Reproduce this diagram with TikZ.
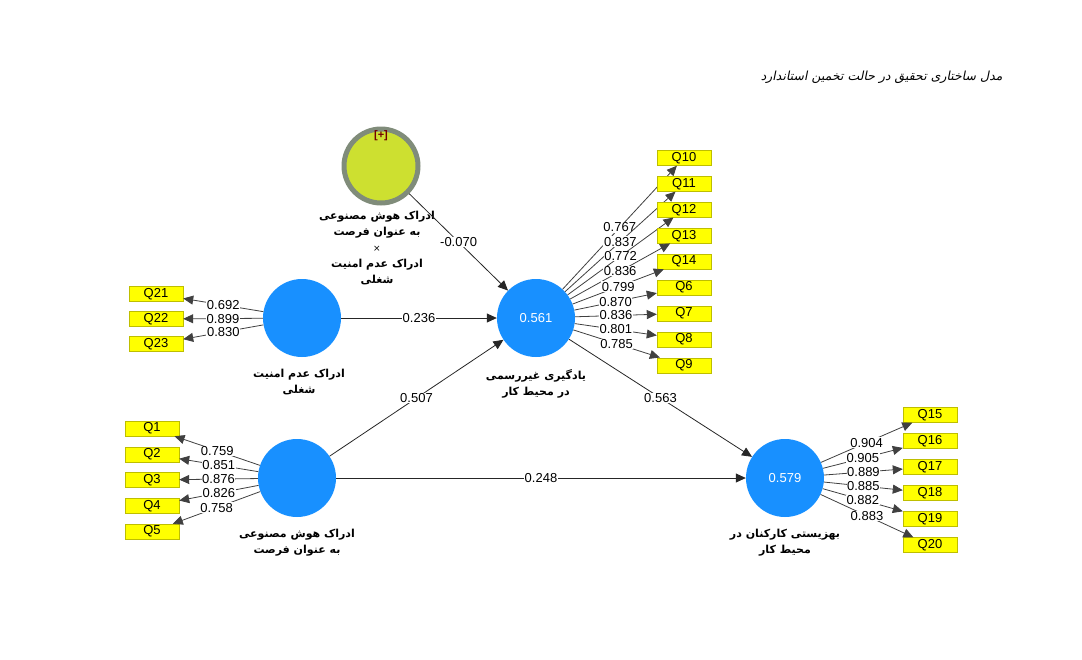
\documentclass[tikz,border=0pt]{standalone}
\usepackage{fontspec}
\setmainfont{Liberation Sans}
\newfontfamily\fa[Script=Arabic]{DejaVu Sans}
\newfontfamily\fatitle[Script=Arabic,FakeSlant=0.2]{DejaVu Sans}
\TeXXeTstate=1
\usetikzlibrary{arrows.meta,positioning}
\newcommand{\rtl}[1]{\beginR #1\endR}
\definecolor{lvblue}{RGB}{24,144,255}
\definecolor{modfill}{RGB}{205,224,48}
\definecolor{modring}{RGB}{128,140,122}
\definecolor{itemfill}{RGB}{255,255,0}
\definecolor{itemline}{RGB}{190,190,0}
\tikzset{
  lv/.style={circle, fill=lvblue, minimum size=78pt, inner sep=0pt, text=white,
    font=\fontsize{13}{15}\selectfont},
  modlv/.style={circle, fill=modfill, draw=modring, line width=5pt, minimum size=74pt, inner sep=0pt},
  item/.style={draw=itemline, fill=itemfill, minimum width=54pt, minimum height=15pt,
    inner sep=0pt, font=\fontsize{13}{14}\selectfont},
  lvname/.style={align=center, inner sep=0pt, font=\fa\bfseries\fontsize{11}{16}\selectfont},
  coef/.style={fill=white, inner sep=0.6pt, font=\fontsize{13}{13}\selectfont},
  struct/.style={draw=black!85, line width=0.8pt, -{Triangle[length=10pt,width=9pt]}},
  loadarrow/.style={draw=black!75, line width=0.8pt, -{Triangle[length=10pt,width=9pt]}}
}
\begin{document}
\begin{tikzpicture}[x=1pt, y=-1pt]
  \useasboundingbox (0,0) rectangle (1082,659);

  % title
  \node[anchor=east, font=\fatitle\fontsize{12.5}{15}\selectfont] (title) at (1006,77)
    {\rtl{مدل ساختاری تحقیق در حالت تخمین استاندارد}};

  % latent variables
  \node[modlv] (mod) at (381,166) {};
  \node[font=\bfseries\fontsize{11}{12}\selectfont, text=red!45!black] (modtag) at (381,136) {[+]};
  \node[lv] (ji) at (302,318) {};
  \node[lv] (ai) at (297,478) {};
  \node[lv] (inf) at (536,318) {0.561};
  \node[lv] (wb) at (785,478) {0.579};

  \node[lvname, below=5pt of mod, xshift=-4pt] (modname)
    {\rtl{ادراک هوش مصنوعی}\\\rtl{به عنوان فرصت}\\{\mdseries\fontsize{9}{16}\selectfont ×}\\\rtl{ادراک عدم امنیت}\\\rtl{شغلی}};
  \node[lvname, below=12pt of ji, xshift=-3pt] (jiname) {\rtl{ادراک عدم امنیت}\\\rtl{شغلی}};
  \node[lvname, below=12pt of ai] (ainame) {\rtl{ادراک هوش مصنوعی}\\\rtl{به عنوان فرصت}};
  \node[lvname, below=12pt of inf] (infname) {\rtl{یادگیری غیررسمی}\\\rtl{در محیط کار}};
  \node[lvname, below=12pt of wb] (wbname) {\rtl{بهزیستی کارکنان در}\\\rtl{محیط کار}};

  % indicators
  \foreach \q/\l [count=\i from 0] in {10/0.767, 11/0.837, 12/0.772, 13/0.836, 14/0.799,
      6/0.870, 7/0.836, 8/0.801, 9/0.785}
  { \node[item] (q\q) at (684,158+25.9*\i) {Q\q};
    \draw[loadarrow] (inf) -- node[coef] {\l} (q\q);}
  \foreach \q/\l [count=\i from 0] in {21/0.692, 22/0.899, 23/0.830}
  { \node[item] (q\q) at (156,294+25*\i) {Q\q};
    \draw[loadarrow] (ji) -- node[coef] {\l} (q\q);}
  \foreach \q/\l [count=\i from 0] in {1/0.759, 2/0.851, 3/0.876, 4/0.826, 5/0.758}
  { \node[item] (q\q) at (152,428.5+25.75*\i) {Q\q};
    \draw[loadarrow] (ai) -- node[coef] {\l} (q\q);}
  \foreach \q/\l [count=\i from 0] in {15/0.904, 16/0.905, 17/0.889, 18/0.885, 19/0.882, 20/0.883}
  { \node[item] (q\q) at (930,415+26*\i) {Q\q};
    \draw[loadarrow] (wb) -- node[coef] {\l} (q\q);}

  % structural paths
  \draw[struct] (mod) -- node[coef] {-0.070} (inf);
  \draw[struct] (ji) -- node[coef] {0.236} (inf);
  \draw[struct] (ai) -- node[coef] {0.507} (inf);
  \draw[struct] (ai) -- node[coef] {0.248} (wb);
  \draw[struct] (inf) -- node[coef] {0.563} (wb);
\end{tikzpicture}
\end{document}
